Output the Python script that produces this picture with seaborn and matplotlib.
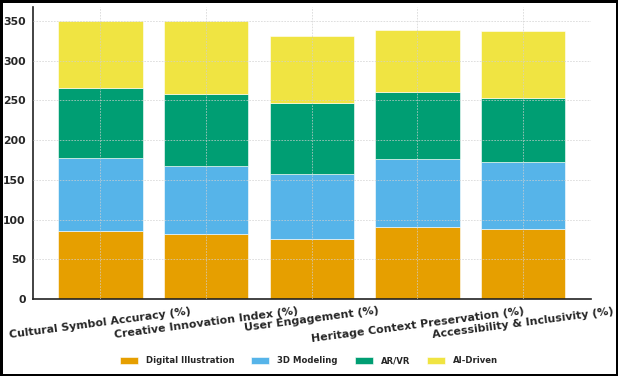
import numpy as np
import pandas as pd
import matplotlib
matplotlib.use('Agg')
import matplotlib.pyplot as plt
import seaborn as sns

##################################################################
metrics = ['Cultural Symbol Accuracy (%)', 'Creative Innovation Index (%)',
           'User Engagement (%)', 'Heritage Context Preservation (%)',
           'Accessibility & Inclusivity (%)']
methods = ['Digital Illustration', '3D Modeling', 'AR/VR', 'AI-Driven']

digital_illustration = [86, 82, 75.5, 90, 88]
modeling_3d = [92, 86, 82, 86, 84]
ar_vr = [88, 89.5, 89, 84, 81]
ai_driven = [84, 92.5, 85, 78.5, 85]
##################################################################

df = pd.DataFrame({'Metric': metrics,
                   'Digital Illustration': digital_illustration,
                   '3D Modeling': modeling_3d,
                   'AR/VR': ar_vr,
                   'AI-Driven': ai_driven})

colors = ['#E69F00', '#56B4E9', '#009E73', '#F0E442']

sns.set_style('white')
plt.rcParams['font.family'] = ['DejaVu Sans']

fig = plt.figure(figsize=(6.18, 3.76), dpi=100, edgecolor='black', linewidth=2.2)
ax = fig.add_axes([0.053, 0.205, 0.903, 0.776])

bottom = np.zeros(len(metrics))
for m, c in zip(methods, colors):
    sns.barplot(data=df, x='Metric', y=m, ax=ax, color=c, bottom=bottom,
                width=0.8, label=m, edgecolor='white', linewidth=0.4, saturation=1)
    bottom = bottom + df[m].values

if ax.get_legend() is not None:
    ax.get_legend().remove()

ax.set_xlim(-0.64, 4.64)
ax.set_ylim(0, 367.5)
ax.set_xlabel('')
ax.set_ylabel('')
ax.set_axisbelow(False)
ax.grid(True, linestyle=(0, (2, 1.5)), color='#d0d0d0', linewidth=0.6, alpha=0.8)
ax.spines['top'].set_visible(False)
ax.spines['right'].set_visible(False)
for s in ['left', 'bottom']:
    ax.spines[s].set_color('#222222')
    ax.spines[s].set_linewidth(1.2)
ax.tick_params(axis='both', length=3, pad=2, color='#333333')

plt.setp(ax.get_xticklabels(), rotation=7.5, ha='center', fontsize=7.9, fontweight='bold')
plt.setp(ax.get_yticklabels(), fontsize=7.8, fontweight='bold')

handles, labels = ax.get_legend_handles_labels()
leg = fig.legend(handles, labels, loc='center', bbox_to_anchor=(0.5, 0.04), ncol=4,
                 frameon=False, prop={'size': 6.1, 'weight': 'bold'},
                 handlelength=2.1, handleheight=0.9, handletextpad=0.95,
                 columnspacing=2.0)

fig.savefig('out.png', dpi=100, edgecolor=fig.get_edgecolor())
